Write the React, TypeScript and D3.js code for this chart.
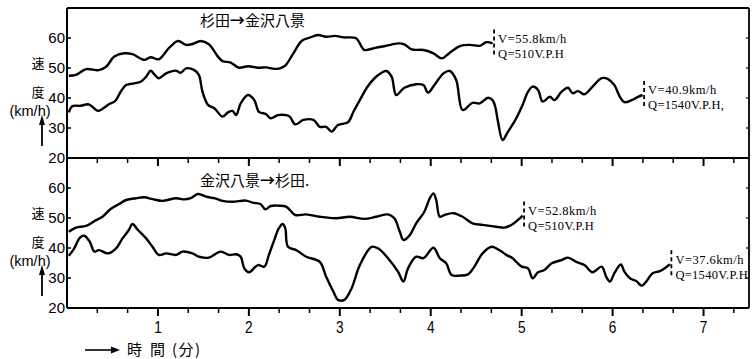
import React from 'react';
import * as d3 from 'd3';

// time (min), speed (km/h)
const topLight: [number, number][] = [
  [0.02, 47.4], [0.10, 47.7], [0.21, 49.6], [0.35, 49.3], [0.43, 50.4], [0.52, 53.8], [0.63, 54.9],
  [0.72, 54.6], [0.85, 52.7], [0.92, 53.6], [1.01, 52.9], [1.12, 56.6], [1.22, 59.0], [1.31, 57.7],
  [1.38, 58.0], [1.47, 59.0], [1.56, 57.9], [1.66, 53.8], [1.71, 52.3], [1.80, 51.8], [1.89, 50.1],
  [1.99, 50.6], [2.10, 50.1], [2.19, 50.2], [2.28, 49.7], [2.34, 49.9], [2.40, 50.8], [2.49, 54.9],
  [2.58, 59.0], [2.67, 60.1], [2.76, 61.0], [2.85, 60.4], [2.95, 60.7], [3.04, 60.2], [3.18, 59.9],
  [3.24, 57.1], [3.27, 56.0], [3.40, 56.8], [3.51, 57.4], [3.64, 58.2], [3.71, 57.9], [3.79, 56.2],
  [3.92, 56.0], [4.03, 54.9], [4.12, 53.2], [4.21, 55.1], [4.32, 57.3], [4.43, 57.7], [4.54, 57.4],
  [4.61, 58.6], [4.68, 58.2],
];

const topHeavy: [number, number][] = [
  [0.02, 35.2], [0.06, 37.3], [0.15, 37.4], [0.24, 37.9], [0.34, 35.7], [0.41, 36.8], [0.46, 37.9],
  [0.53, 39.0], [0.59, 42.1], [0.65, 44.3], [0.74, 44.9], [0.81, 45.4], [0.87, 47.1], [0.92, 49.1],
  [0.96, 47.9], [1.01, 46.6], [1.09, 48.2], [1.20, 49.1], [1.25, 48.4], [1.31, 49.9], [1.40, 49.3],
  [1.45, 47.7], [1.49, 42.1], [1.55, 37.7], [1.62, 36.6], [1.71, 33.8], [1.77, 35.2], [1.82, 35.7],
  [1.86, 34.3], [1.91, 38.2], [1.99, 41.0], [2.06, 39.3], [2.11, 35.4], [2.19, 34.6], [2.24, 33.2],
  [2.32, 34.3], [2.41, 34.3], [2.45, 33.8], [2.51, 31.2], [2.60, 32.7], [2.71, 32.7], [2.78, 30.4],
  [2.85, 30.4], [2.91, 28.8], [2.98, 31.0], [3.09, 31.9], [3.15, 35.4], [3.22, 39.3], [3.31, 44.0],
  [3.40, 47.1], [3.51, 49.0], [3.57, 47.1], [3.62, 41.0], [3.71, 43.4], [3.84, 44.6], [3.92, 44.3],
  [3.97, 41.8], [4.04, 44.3], [4.14, 48.2], [4.21, 49.0], [4.28, 46.0], [4.35, 36.0], [4.46, 38.4],
  [4.54, 38.2], [4.63, 40.1], [4.68, 39.3], [4.71, 37.0], [4.74, 32.1], [4.79, 26.0], [4.85, 28.8],
  [4.92, 32.1], [5.01, 37.7], [5.07, 42.1], [5.12, 43.8], [5.18, 42.7], [5.23, 38.8], [5.31, 40.4],
  [5.36, 39.3], [5.44, 42.1], [5.51, 43.4], [5.56, 41.6], [5.62, 42.3], [5.69, 41.2], [5.78, 43.8],
  [5.88, 46.6], [5.95, 46.3], [6.02, 44.3], [6.08, 40.4], [6.13, 38.6], [6.21, 39.3], [6.28, 40.4],
  [6.33, 41.0],
];

const botLight: [number, number][] = [
  [0.02, 45.4], [0.10, 46.8], [0.21, 47.4], [0.32, 49.3], [0.39, 50.4], [0.48, 53.0], [0.57, 54.6],
  [0.65, 56.0], [0.76, 56.6], [0.85, 56.9], [0.94, 56.3], [1.05, 55.7], [1.20, 56.6], [1.29, 56.2],
  [1.36, 56.6], [1.44, 58.0], [1.53, 57.1], [1.62, 56.6], [1.71, 55.7], [1.82, 55.4], [1.97, 55.8],
  [2.04, 55.1], [2.13, 54.6], [2.18, 52.9], [2.24, 54.0], [2.33, 54.1], [2.41, 53.8], [2.51, 51.0],
  [2.63, 51.2], [2.78, 50.4], [2.96, 49.9], [3.11, 50.4], [3.27, 49.7], [3.40, 50.4], [3.53, 51.2],
  [3.60, 49.9], [3.66, 45.4], [3.70, 42.7], [3.77, 44.3], [3.84, 48.2], [3.93, 52.1], [3.99, 56.6],
  [4.03, 58.2], [4.06, 56.0], [4.10, 50.4], [4.15, 51.0], [4.25, 51.6], [4.35, 50.4], [4.46, 48.2],
  [4.57, 47.7], [4.72, 47.1], [4.81, 46.8], [4.90, 47.9], [4.98, 49.9], [5.01, 50.8],
];

const botHeavy: [number, number][] = [
  [0.02, 37.4], [0.08, 39.9], [0.14, 43.4], [0.19, 44.1], [0.25, 42.1], [0.30, 38.8], [0.35, 39.3],
  [0.45, 38.2], [0.54, 39.9], [0.61, 43.2], [0.68, 46.0], [0.72, 48.0], [0.78, 46.0], [0.87, 43.2],
  [0.94, 40.4], [1.01, 37.7], [1.09, 38.2], [1.20, 37.7], [1.27, 38.8], [1.38, 38.2], [1.45, 37.1],
  [1.56, 36.8], [1.69, 38.8], [1.78, 37.7], [1.86, 37.9], [1.91, 37.1], [1.95, 33.2], [2.00, 31.9],
  [2.10, 34.3], [2.17, 33.8], [2.22, 37.7], [2.28, 42.7], [2.33, 46.6], [2.37, 48.0], [2.40, 46.6],
  [2.43, 40.4], [2.52, 39.3], [2.63, 37.1], [2.78, 35.4], [2.85, 30.4], [2.93, 25.4], [2.98, 22.7],
  [3.05, 22.7], [3.13, 26.6], [3.22, 34.3], [3.35, 40.4], [3.42, 39.9], [3.53, 36.6], [3.64, 32.1],
  [3.70, 28.8], [3.75, 33.2], [3.84, 37.1], [3.92, 36.6], [4.03, 40.1], [4.10, 36.6], [4.17, 34.9],
  [4.23, 31.0], [4.32, 30.8], [4.41, 31.2], [4.48, 33.8], [4.57, 38.2], [4.67, 40.4], [4.72, 39.9],
  [4.78, 38.8], [4.83, 37.7], [4.89, 36.8], [4.94, 35.4], [5.00, 33.8], [5.07, 33.2], [5.12, 29.9],
  [5.18, 31.9], [5.25, 32.7], [5.33, 34.9], [5.44, 36.0], [5.51, 36.8], [5.60, 35.4], [5.69, 34.3],
  [5.78, 31.9], [5.88, 33.8], [5.93, 30.4], [5.97, 28.8], [6.02, 31.6], [6.09, 34.5], [6.13, 32.1],
  [6.19, 29.9], [6.26, 29.0], [6.32, 27.4], [6.37, 28.8], [6.44, 31.6], [6.52, 32.3], [6.57, 33.2],
  [6.63, 34.6],
];

const yTicks = [20, 30, 40, 50, 60];
const xMajor = [1, 2, 3, 4, 5, 6, 7];
const topTitle = ['杉田', '金沢八景'];
const botTitle = ['金沢八景', '杉田.'];
const topNotes = [['V=55.8km/h', 'Q=510V.P.H'], ['V=40.9km/h', 'Q=1540V.P.H,']];
const botNotes = [['V=52.8km/h', 'Q=510V.P.H'], ['V=37.6km/h', 'Q=1540V.P.H']];

const W = 752;
const H = 359;
const L = 67;
const R = 749;
const TOP = 8;
const MID = 158;
const BOT = 308;

const cjk = '"Noto Sans CJK JP", sans-serif';
const sans = '"Liberation Sans", Arial, sans-serif';
const serif = '"Liberation Serif", "DejaVu Serif", serif';

const x = d3.scaleLinear().domain([0, 7.5]).range([L, R]);
const minorTicks = d3.range(1, 23).map(i => i / 3);

function Panel({ y, series, notes, title, titleY }: {
  y: d3.ScaleLinear<number, number>;
  series: [number, number][][];
  notes: string[][];
  title: string[];
  titleY: number;
}) {
  const line = d3.line<[number, number]>()
    .x(d => x(d[0]))
    .y(d => y(d[1]))
    .curve(d3.curveCatmullRom.alpha(0.5));
  const [y0, y1] = y.range();
  return (
    <g>
      {yTicks.map(t => (
        <g key={t}>
          <line x1={L} x2={L + 4} y1={y(t)} y2={y(t)} stroke="#000" strokeWidth={1.5} />
          <line x1={R - 3} x2={R} y1={y(t)} y2={y(t)} stroke="#000" strokeWidth={1.2} />
          <text x={L - 2} y={y(t)} dy="0.36em" textAnchor="end" fontFamily={sans} fontSize={15}>{t}</text>
        </g>
      ))}
      {minorTicks.map(t => {
        const major = Math.abs(t - Math.round(t)) < 1e-6;
        return <line key={t} x1={x(t)} x2={x(t)} y1={y0} y2={y0 + (major ? 8 : 5)} stroke="#000" strokeWidth={major ? 2 : 1.5} />;
      })}
      {series.map((s, i) => (
        <path key={i} d={line(s) || ''} fill="none" stroke="#000" strokeWidth={2.4} strokeLinejoin="round" />
      ))}
      {series.map((s, i) => {
        const last = s[s.length - 1];
        const bx = x(last[0]) + 1.5;
        const by = y(last[1]);
        return (
          <g key={'n' + i}>
            <line x1={bx} x2={bx} y1={by - 14} y2={by + 14} stroke="#000" strokeWidth={1.8} strokeDasharray="4 3" />
            <text x={bx + 4} y={by - 5} dy="0.35em" fontFamily={serif} fontSize={12.5} letterSpacing={0.5}>{notes[i][0]}</text>
            <text x={bx + 4} y={by + 10} dy="0.35em" fontFamily={serif} fontSize={12.5} letterSpacing={0.3}>{notes[i][1]}</text>
          </g>
        );
      })}
      <text x={200} y={titleY} dy="0.36em" fontFamily={cjk} fontSize={15}>
        {title[0]}<tspan fontWeight={700}>→</tspan>{title[1]}
      </text>
      <text x={38} y={y(50) - 5} dy="0.36em" textAnchor="middle" fontFamily={cjk} fontSize={13}>速</text>
      <text x={38} y={y(40) - 6} dy="0.36em" textAnchor="middle" fontFamily={cjk} fontSize={13}>度</text>
      <text x={30} y={y(40) + 13} dy="0.36em" textAnchor="middle" fontFamily={sans} fontSize={14.5}>(km/h)</text>
      <line x1={42} x2={42} y1={y(25) + 3} y2={y(32) - 2} stroke="#000" strokeWidth={1.8} />
      <path d={`M${42},${y(33) - 4} L${39},${y(31)} L${45},${y(31)} Z`} fill="#000" />
      <line x1={L} x2={R} y1={y0} y2={y0} stroke="#000" strokeWidth={2} />
      <line x1={L} x2={L} y1={y1} y2={y0} stroke="#000" strokeWidth={2} />
      <line x1={R} x2={R} y1={y1} y2={y0} stroke="#000" strokeWidth={1.8} />
    </g>
  );
}

export default function App() {
  const yTop = d3.scaleLinear().domain([20, 70]).range([MID, TOP]);
  const yBot = d3.scaleLinear().domain([20, 70]).range([BOT, MID]);
  return (
    <svg width={W} height={H} style={{ position: 'absolute', left: 0, top: 0, background: '#fff' }}>
      <rect x={0} y={0} width={W} height={H} fill="#fff" />
      <line x1={L} x2={R} y1={TOP} y2={TOP} stroke="#000" strokeWidth={1.8} />
      <Panel y={yTop} series={[topLight, topHeavy]} notes={topNotes} title={topTitle} titleY={21} />
      <Panel y={yBot} series={[botLight, botHeavy]} notes={botNotes} title={botTitle} titleY={181} />
      {xMajor.map(t => (
        <text key={t} x={x(t)} y={327} dy="0.36em" textAnchor="middle" fontFamily={sans} fontSize={16}
          transform={`translate(${x(t)},0) scale(0.85,1) translate(${-x(t)},0)`}>{t}</text>
      ))}
      <line x1={85} x2={113} y1={350} y2={350} stroke="#000" strokeWidth={1.6} />
      <path d="M120,350 L111,346.5 L111,353.5 Z" fill="#000" />
      <text x={127} y={350} dy="0.36em" fontFamily={cjk} fontSize={15}>時</text>
      <text x={150} y={350} dy="0.36em" fontFamily={cjk} fontSize={15}>間</text>
      <text x={172} y={350} dy="0.36em" fontFamily={cjk} fontSize={15} letterSpacing={1.5}>(分)</text>
    </svg>
  );
}
